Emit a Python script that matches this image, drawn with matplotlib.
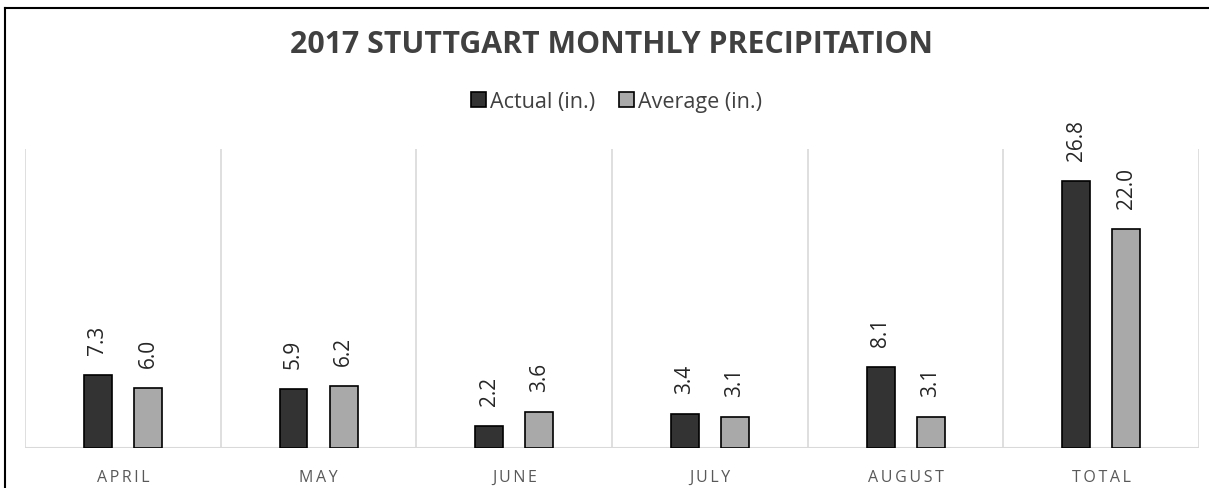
import matplotlib.pyplot as plt
import numpy as np
from matplotlib.lines import Line2D
from matplotlib.patches import Patch

plt.rcParams['font.family'] = ['Open Sans', 'DejaVu Sans']

months = ['APRIL', 'MAY', 'JUNE', 'JULY', 'AUGUST', 'TOTAL']
actual = [7.3, 5.9, 2.2, 3.4, 8.1, 26.8]
average = [6.0, 6.2, 3.6, 3.1, 3.1, 22.0]
series_labels = ['Actual (in.)', 'Average (in.)']
colors = ['#333333', '#a9a9a9']

fig = plt.figure(figsize=(12.09, 4.89), dpi=100)
ax = fig.add_axes([0.0207, 0.0818, 0.9711, 0.6112])

x = np.arange(len(months))
width = 0.143
offset = 0.128

bars_a = ax.bar(x - offset, actual, width, color=colors[0], edgecolor='black', linewidth=1.2, zorder=3)
bars_b = ax.bar(x + offset, average, width, color=colors[1], edgecolor='black', linewidth=1.2, zorder=3)

for bars, vals in [(bars_a, actual), (bars_b, average)]:
    for b, v in zip(bars, vals):
        ax.annotate(f'{v:.1f}', (b.get_x() + b.get_width() / 2, v),
                    xytext=(0, 15), textcoords='offset points',
                    rotation=90, ha='center', va='bottom',
                    fontsize=15, color='#262626')

# wide letter tracking on the category labels (thin spaces between letters)
spaced = ['\u2009'.join(m) for m in months]

ax.set_xlim(-0.5, len(months) - 0.5)
ax.set_ylim(0, 30)
ax.set_yticks([])
ax.set_xticks(x)
ax.set_xticklabels(spaced, fontsize=11.5, color='#595959')
ax.tick_params(axis='x', length=0, pad=15)

# category separators
for b in np.arange(-0.5, len(months), 1.0):
    ax.axvline(b, color='#d9d9d9', linewidth=1.2, zorder=1)
for s in ax.spines.values():
    s.set_visible(False)
ax.axhline(0, color='#d9d9d9', linewidth=1.5, zorder=2)

fig.text(0.506, 0.907, '2017 STUTTGART MONTHLY PRECIPITATION', ha='center', va='center',
         fontsize=21.8, fontweight='bold', color='#404040')

handles = [Patch(facecolor=c, edgecolor='black', linewidth=1.2) for c in colors]
fig.legend(handles, series_labels, loc='center', bbox_to_anchor=(0.51, 0.79), ncol=2,
           frameon=False, fontsize=15.5, handlelength=0.7, handleheight=0.7,
           handletextpad=0.2, columnspacing=1.1, labelcolor='#404040')

# outer frame (top and left edges)
fig.add_artist(Line2D([0.0041, 1.0], [1 - 9 / 489, 1 - 9 / 489], color='black', linewidth=1.5, transform=fig.transFigure))
fig.add_artist(Line2D([0.0041, 0.0041], [0.0, 1 - 9 / 489], color='black', linewidth=1.5, transform=fig.transFigure))

fig.savefig('out.png', dpi=100)
